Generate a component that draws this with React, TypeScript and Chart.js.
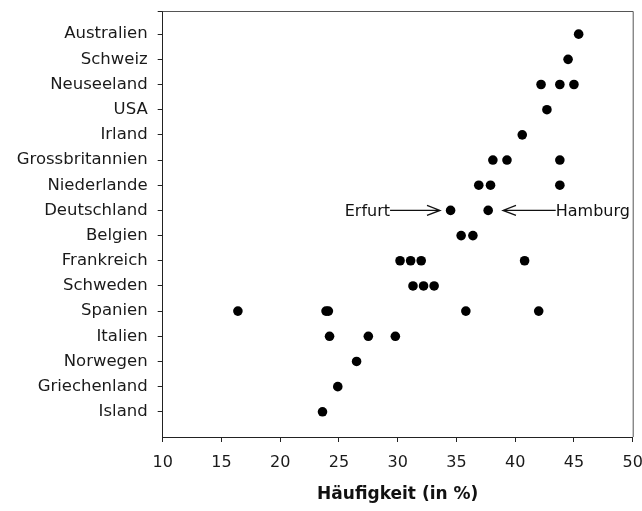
import React, { useEffect, useRef } from "react";
import { Chart, registerables } from "chart.js";

Chart.register(...registerables);

// Categories from bottom (1) to top (16)
const countries: string[] = [
  "Island",
  "Griechenland",
  "Norwegen",
  "Italien",
  "Spanien",
  "Schweden",
  "Frankreich",
  "Belgien",
  "Deutschland",
  "Niederlande",
  "Grossbritannien",
  "Irland",
  "USA",
  "Neuseeland",
  "Schweiz",
  "Australien",
];

// Häufigkeit (in %) per country, same order as countries
const frequencies: number[][] = [
  [23.6],
  [24.9],
  [26.5],
  [24.2, 27.5, 29.8],
  [16.4, 23.9, 24.1, 35.8, 42.0],
  [31.3, 32.2, 33.1],
  [30.2, 31.1, 32.0, 40.8],
  [35.4, 36.4],
  [34.5, 37.7],
  [36.9, 37.9, 43.8],
  [38.1, 39.3, 43.8],
  [40.6],
  [42.7],
  [42.2, 43.8, 45.0],
  [44.5],
  [45.4],
];

const xTicks: number[] = [10, 15, 20, 25, 30, 35, 40, 45, 50];
const xTitle = "Häufigkeit (in %)";

// Arrow annotations on the Deutschland row
const arrowLabels: string[] = ["Erfurt", "Hamburg"];
const arrowRow: string[] = ["Deutschland", "Deutschland"];
const arrowFrom: number[] = [29.35, 43.45];
const arrowTo: number[] = [33.6, 38.96];

const FONT = "DejaVu Sans";

const frameAndArrows = {
  id: "frameAndArrows",
  afterDatasetsDraw(chart: any) {
    const { ctx, chartArea } = chart;
    const xs = chart.scales.x;
    const ys = chart.scales.y;
    ctx.save();
    ctx.strokeStyle = "#555";
    ctx.lineWidth = 1;
    ctx.beginPath();
    ctx.moveTo(chartArea.left, chartArea.top + 0.5);
    ctx.lineTo(chartArea.right + 0.5, chartArea.top + 0.5);
    ctx.lineTo(chartArea.right + 0.5, chartArea.bottom);
    ctx.stroke();

    ctx.strokeStyle = "#111";
    ctx.fillStyle = "#111";
    ctx.lineWidth = 1.3;
    ctx.font = `16px "${FONT}"`;
    ctx.textBaseline = "middle";
    for (let i = 0; i < arrowLabels.length; i++) {
      const yp = ys.getPixelForValue(countries.indexOf(arrowRow[i]) + 1);
      const x0 = xs.getPixelForValue(arrowFrom[i]);
      const x1 = xs.getPixelForValue(arrowTo[i]);
      const dir = x1 > x0 ? 1 : -1;
      ctx.beginPath();
      ctx.moveTo(x0, yp);
      ctx.lineTo(x1, yp);
      ctx.moveTo(x1 - dir * 13, yp - 5);
      ctx.lineTo(x1, yp);
      ctx.lineTo(x1 - dir * 13, yp + 5);
      ctx.stroke();
      ctx.textAlign = dir > 0 ? "right" : "left";
      ctx.fillText(arrowLabels[i], x0, yp + 1);
    }
    ctx.restore();
  },
};

export default function App() {
  const ref = useRef<HTMLCanvasElement | null>(null);
  useEffect(() => {
    document.body.style.margin = "0";
    const points: { x: number; y: number }[] = [];
    frequencies.forEach((vals, i) => vals.forEach((v) => points.push({ x: v, y: i + 1 })));
    const chart = new Chart(ref.current as HTMLCanvasElement, {
      type: "scatter",
      data: {
        datasets: [
          {
            data: points,
            backgroundColor: "#000",
            borderColor: "#000",
            pointRadius: 4.8,
            pointHoverRadius: 4.8,
            borderWidth: 0,
          },
        ],
      },
      options: {
        animation: false,
        responsive: false,
        events: [],
        layout: { padding: { top: 11, right: 9.3, bottom: 0, left: 0 } },
        plugins: { legend: { display: false }, tooltip: { enabled: false } },
        scales: {
          x: {
            type: "linear",
            min: 10,
            max: 50,
            afterBuildTicks: (s: any) => {
              s.ticks = xTicks.map((v) => ({ value: v }));
            },
            afterFit: (s: any) => {
              s.height = 74;
              s.paddingLeft = 0;
              s.paddingRight = 0;
            },
            grid: { drawOnChartArea: false, drawTicks: true, tickLength: 5, color: "#222" },
            border: { display: true, color: "#222", width: 1 },
            ticks: {
              font: { family: FONT, size: 16 },
              color: "#1a1a1a",
              padding: 11,
              maxRotation: 0,
              autoSkip: false,
            },
            title: {
              display: true,
              text: xTitle,
              font: { family: FONT, size: 17, weight: "bold" },
              color: "#111",
              padding: { top: 0, bottom: 6 },
            },
          },
          y: {
            type: "linear",
            min: 0,
            max: 16.92,
            afterBuildTicks: (s: any) => {
              s.ticks = [...countries.map((_, i) => ({ value: i + 1 })), { value: 16.92 }];
            },
            afterFit: (s: any) => {
              s.width = 162.7;
              s.paddingTop = 0;
              s.paddingBottom = 0;
            },
            grid: { drawOnChartArea: false, drawTicks: true, tickLength: 5, color: "#222" },
            border: { display: true, color: "#222", width: 1 },
            ticks: {
              font: { family: FONT, size: 16.5 },
              color: "#1a1a1a",
              padding: 10,
              autoSkip: false,
              callback: (v: any) => {
                const n = Number(v);
                return Number.isInteger(n) && n >= 1 && n <= countries.length ? countries[n - 1] : "";
              },
            },
          },
        },
      },
      plugins: [frameAndArrows],
    });
    return () => chart.destroy();
  }, []);
  return (
    <div style={{ width: 642, height: 511, background: "#fff" }}>
      <canvas ref={ref} width={642} height={511} />
    </div>
  );
}
